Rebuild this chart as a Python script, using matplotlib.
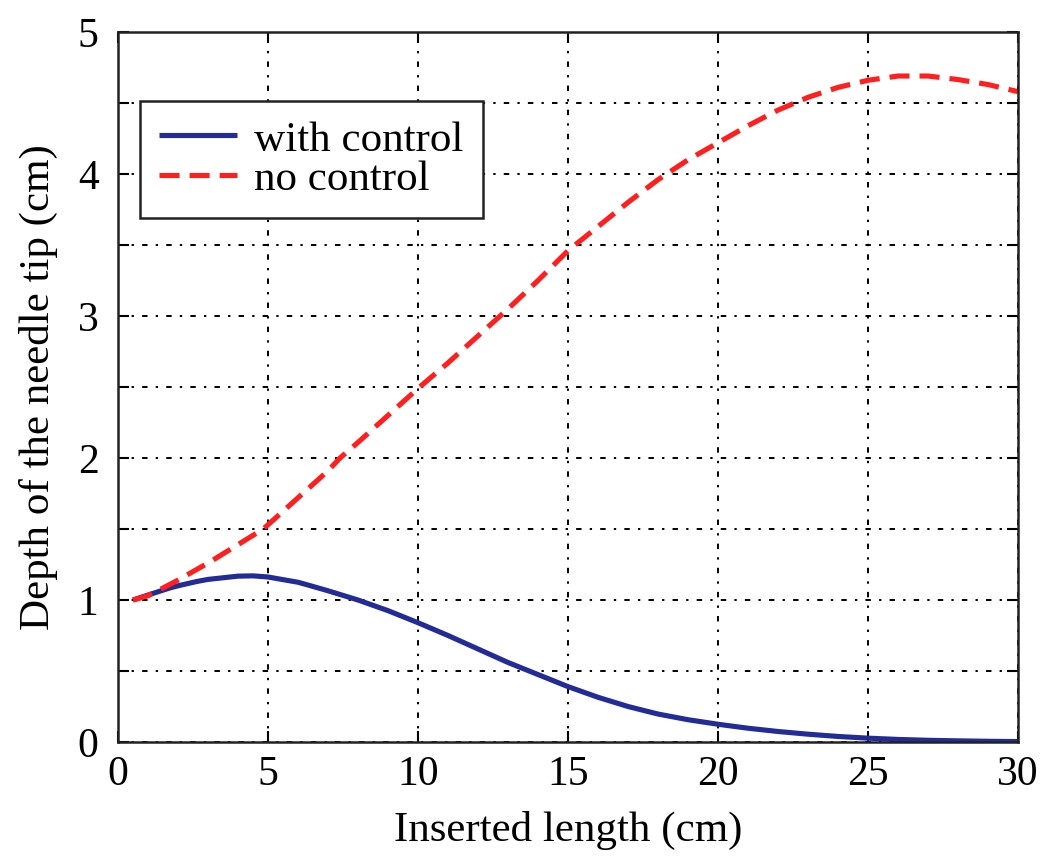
import matplotlib
matplotlib.use("Agg")
import matplotlib.pyplot as plt
from matplotlib.ticker import MultipleLocator

# ---- data ----
x_red = [0.5, 1, 1.73, 2, 2.62, 3, 4, 4.84, 5, 6, 7, 7.4, 8, 9, 10, 11, 12, 13, 14, 15,
         16, 17, 18, 19, 20, 21, 22, 23, 24, 25, 26, 27, 28, 29, 30]
y_red = [1.00, 1.03, 1.11, 1.14, 1.215, 1.26, 1.39, 1.50, 1.53, 1.72, 1.91, 2.00, 2.11,
         2.30, 2.49, 2.67, 2.86, 3.05, 3.25, 3.46, 3.63, 3.80, 3.96, 4.10, 4.22, 4.34,
         4.45, 4.54, 4.61, 4.66, 4.69, 4.69, 4.665, 4.63, 4.58]

x_blue = [0.5, 1, 1.73, 2, 2.62, 3, 4, 4.5, 5, 6, 6.29, 7, 8, 9, 10, 11, 12, 13, 14,
          15, 16, 17, 18, 19, 20, 21, 22, 23, 24, 25, 26, 27, 28, 29, 30]
y_blue = [1.00, 1.035, 1.085, 1.10, 1.13, 1.145, 1.168, 1.17, 1.162, 1.125, 1.108, 1.065,
          1.00, 0.925, 0.84, 0.75, 0.655, 0.56, 0.475, 0.39, 0.315, 0.25, 0.197, 0.157,
          0.125, 0.097, 0.074, 0.055, 0.039, 0.027, 0.018, 0.012, 0.008, 0.005, 0.003]

series_labels = ["with control", "no control"]
x_label = "Inserted length (cm)"
y_label = "Depth of the needle tip (cm)"

plt.rcParams['font.family'] = ['Liberation Serif', 'DejaVu Serif']

fig = plt.figure(figsize=(10.5, 8.6), dpi=100)
ax = fig.add_axes([118/1050, 1-742/860, 900/1050, 710/860])

blue = '#232b96'
red = '#ff1f1f'

ax.plot(x_blue, y_blue, color=blue, lw=3.7, label=series_labels[0],
        solid_capstyle='butt', solid_joinstyle='round')
ax.plot(x_red, y_red, color=red, lw=3.7, label=series_labels[1],
        linestyle=(0, (3.9, 1.95)), dash_capstyle='butt', dash_joinstyle='round')

ax.set_xlim(0, 30)
ax.set_ylim(0, 5)
ax.xaxis.set_major_locator(MultipleLocator(5))
ax.yaxis.set_major_locator(MultipleLocator(1))
ax.yaxis.set_minor_locator(MultipleLocator(0.5))

ax.tick_params(axis='both', which='both', direction='in', top=True, right=True,
               length=8, width=1.5, labelsize=30, color='black')
ax.tick_params(axis='x', pad=10)
ax.tick_params(axis='y', pad=14)

grid_style = dict(color='black', lw=1.4, linestyle=(0, (2.8, 4.2, 1.2, 4.2)))
ax.grid(True, which='major', axis='x', **grid_style)
ax.grid(True, which='both', axis='y', **grid_style)
ax.set_axisbelow(True)

for s in ax.spines.values():
    s.set_linewidth(1.8)
    s.set_color('#222222')

ax.set_xlabel(x_label, fontsize=31, labelpad=12)
ax.set_ylabel(y_label, fontsize=31, labelpad=14)

leg = ax.legend(loc='upper left', bbox_to_anchor=(22/900, (742-101)/710),
                borderaxespad=0, fontsize=31, frameon=True, fancybox=False,
                edgecolor='#222222', framealpha=1, handlelength=1.8,
                handletextpad=0.4, labelspacing=0.0, borderpad=0.45)
leg.get_frame().set_linewidth(1.8)

fig.savefig('out.png', dpi=100)
